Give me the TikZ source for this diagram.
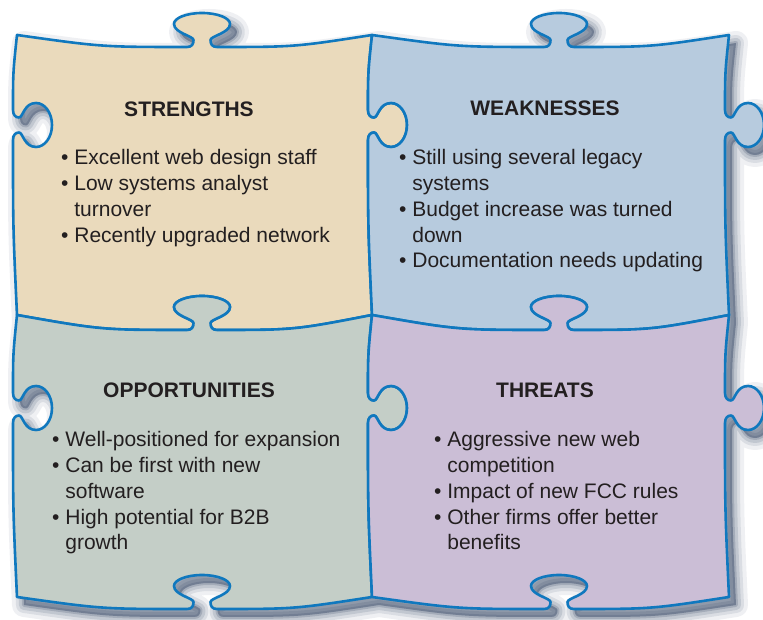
\documentclass[tikz,border=0pt]{standalone}
\usepackage{fontspec}
\setmainfont{Liberation Sans}
\definecolor{edge}{RGB}{16,120,190}
\definecolor{ink}{RGB}{35,31,32}
\definecolor{shade}{RGB}{50,68,98}
\definecolor{S}{RGB}{234,218,188}
\definecolor{W}{RGB}{183,203,222}
\definecolor{O}{RGB}{196,206,199}
\definecolor{T}{RGB}{203,190,214}
\newcommand{\bul}{\textbullet\ }
\newcommand{\cont}{\phantom{\textbullet\ }}
\newcommand{\txtS}{\bul Excellent web design staff\\ \bul Low systems analyst\\ \cont turnover\\ \bul Recently upgraded network}
\newcommand{\txtW}{\bul Still using several legacy\\ \cont systems\\ \bul Budget increase was turned\\ \cont down\\ \bul Documentation needs updating}
\newcommand{\txtO}{\bul Well-positioned for expansion\\ \bul Can be first with new\\ \cont software\\ \bul High potential for B2B\\ \cont growth}
\newcommand{\txtT}{\bul Aggressive new web\\ \cont competition\\ \bul Impact of new FCC rules\\ \bul Other firms offer better\\ \cont benefits}
% tabs: #1,#2 = foot of the tab, #3 = 1 or -1 (way the edge runs)
\newcommand{\htab}[3]{{[shift={(#1,#2)},xscale=#3] .. controls (-10,0) and (-8.5,3) .. (-8.5,7) .. controls (-8.5,11) and (-28,14) .. (-28,23) .. controls (-28,29) and (-15.5,34) .. (0,34) .. controls (15.5,34) and (28,29) .. (28,23) .. controls (28,14) and (8.5,11) .. (8.5,7) .. controls (8.5,3) and (10,0) .. (15,0)}}
\newcommand{\vtab}[3]{{[shift={(#1,#2)},rotate=-90,xscale=#3] .. controls (-10,0) and (-7.5,2.5) .. (-7.5,6) .. controls (-7.5,10) and (-22,11) .. (-22,23) .. controls (-22,31.8) and (-12.2,39) .. (0,39) .. controls (12.2,39) and (22,31.8) .. (22,23) .. controls (22,11) and (7.5,10) .. (7.5,6) .. controls (7.5,2.5) and (10,0) .. (15,0)}}
% edges: from #1 to #2 at #3, tab foot at (#4,#5), #6 = 1 or -1
\newcommand{\hseam}[6]{ .. controls ({(#1+#4-15*(#6))/2},#5) .. ({#4-15*(#6)},#5) \htab{#4}{#5}{#6} .. controls ({(#2+#4+15*(#6))/2},#5) .. (#2,#3)}
\newcommand{\vseam}[6]{ .. controls (#5,{(#1+#4+15*(#6))/2}) .. (#5,{#4+15*(#6)}) \vtab{#5}{#4}{#6} .. controls (#5,{(#2+#4-15*(#6))/2}) .. (#3,#2)}
\newcommand{\pieceS}{(17,585) \hseam{17}{372}{585}{202}{573}{1} \vseam{585}{305}{372}{495}{368}{1} \hseam{372}{17}{305}{202}{290}{-1} \vseam{305}{585}{17}{495}{13}{-1} -- cycle}
\newcommand{\pieceW}{(372,585) \hseam{372}{729}{585}{559}{573}{1} \vseam{585}{305}{729}{495}{725}{1} \hseam{729}{372}{305}{559}{290}{-1} \vseam{305}{585}{372}{495}{368}{-1} -- cycle}
\newcommand{\pieceO}{(17,305) \hseam{17}{372}{305}{202}{290}{1} \vseam{305}{23}{372}{212}{368}{1} \hseam{372}{17}{23}{202}{11}{-1} \vseam{23}{305}{17}{212}{13}{-1} -- cycle}
\newcommand{\pieceT}{(372,305) \hseam{372}{729}{305}{559}{290}{1} \vseam{305}{23}{729}{212}{725}{1} \hseam{729}{372}{23}{559}{11}{-1} \vseam{23}{305}{372}{212}{368}{-1} -- cycle}
\newcommand{\puzzleoutline}{(17,585) \hseam{17}{372}{585}{202}{573}{1} \hseam{372}{729}{585}{559}{573}{1} \vseam{585}{305}{729}{495}{725}{1} \vseam{305}{23}{729}{212}{725}{1} \hseam{729}{372}{23}{559}{11}{-1} \hseam{372}{17}{23}{202}{11}{-1} \vseam{23}{305}{17}{212}{13}{-1} \vseam{305}{585}{17}{495}{13}{-1} -- cycle}

\begin{document}
\begin{tikzpicture}[x=1pt,y=1pt,
    piece/.style={fill=#1,draw=edge,line width=2.6pt,line join=round},
    title/.style={font=\fontsize{21}{25.7}\selectfont\bfseries,text=ink,inner sep=0pt,anchor=base},
    list/.style={font=\fontsize{21}{25.7}\selectfont,text=ink,align=left,inner sep=0pt,anchor=base west}
]
\useasboundingbox (0,0) rectangle (763,620);

\foreach \w/\o in {24/0.08,16/0.11,10/0.15,4/0.2}
  \path[fill=shade,draw=shade,line width=\w pt,line join=round,opacity=\o,shift={(7,-8)}] \puzzleoutline;

\draw[piece=S] \pieceS;
\draw[piece=W] \pieceW;
\draw[piece=O] \pieceO;
\draw[piece=T] \pieceT;

\node[title] (hS) at (189,503) {STRENGTHS};
\node[title] (hW) at (545,504) {WEAKNESSES};
\node[title] (hO) at (189,222) {OPPORTUNITIES};
\node[title] (hT) at (545,222) {THREATS};

% base of a list is its last line
\node[list] (lS) at (61,377.9) {\txtS};
\node[list] (lW) at (399,352.2) {\txtW};
\node[list] (lO) at (52,70.2) {\txtO};
\node[list] (lT) at (434,70.2) {\txtT};
\end{tikzpicture}
\end{document}
